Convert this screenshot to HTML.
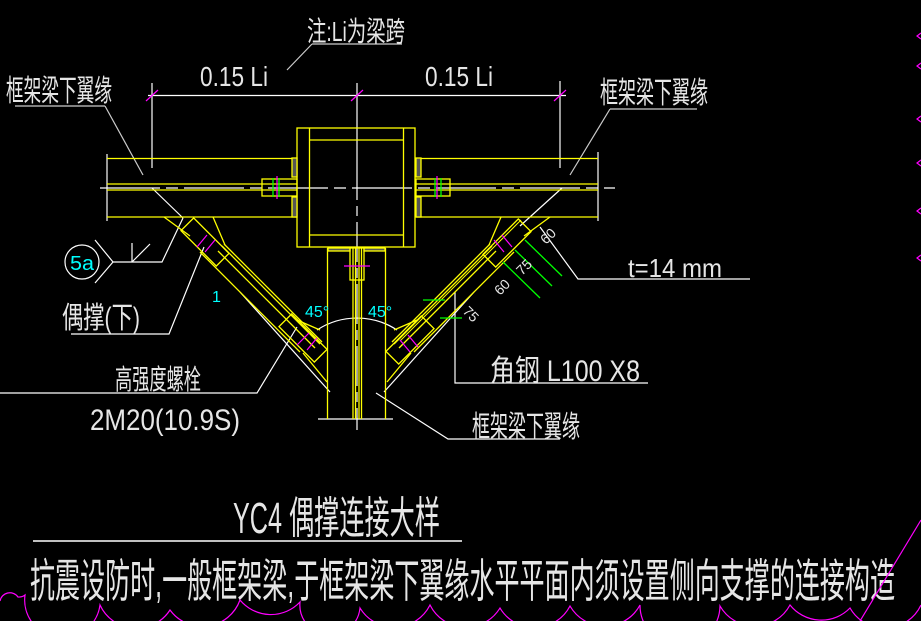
<!DOCTYPE html>
<html><head><meta charset="utf-8"><style>
html,body{margin:0;padding:0;background:#000;}
svg{display:block;}
text{font-family:"Liberation Sans","Noto Sans CJK SC",sans-serif;fill:#e6e6e6;}
</style></head><body>
<svg width="921" height="621" viewBox="0 0 921 621" xmlns="http://www.w3.org/2000/svg">
<rect width="921" height="621" fill="#000"/>
<g fill="none" stroke="#fff" stroke-width="1.2">
 <line x1="148" y1="95.5" x2="566" y2="95.5"/>
 <line x1="152" y1="83" x2="152" y2="168"/>
 <line x1="357" y1="83" x2="357" y2="160"/>
 <line x1="560" y1="81" x2="560" y2="168"/>
 <line x1="312" y1="44" x2="402" y2="44" stroke="#ccc"/>
 <line x1="312" y1="44" x2="287" y2="70" stroke="#ccc"/>
 <line x1="15" y1="106" x2="105" y2="106" stroke="#ccc"/>
 <line x1="105" y1="106" x2="143" y2="175" stroke="#ccc"/>
 <line x1="610" y1="109" x2="697" y2="109" stroke="#ccc"/>
 <line x1="610" y1="109" x2="570" y2="175" stroke="#ccc"/>
 <line x1="107" y1="154" x2="107" y2="221"/>
 <line x1="598" y1="152" x2="598" y2="221"/>
 <line x1="100" y1="188" x2="615" y2="188" stroke-dasharray="60 6 12 6"/>
 <line x1="357" y1="160" x2="357" y2="430" stroke-dasharray="40 6 10 6"/>
 <line x1="152" y1="188" x2="183" y2="218"/>
 <line x1="562" y1="188" x2="520" y2="226"/>
 <circle cx="82" cy="262" r="17"/>
 <polyline points="95,240 113,262 95,283"/>
 <polyline points="113,262 162,262 183,218"/>
 <line x1="132" y1="243" x2="132" y2="262"/>
 <line x1="132" y1="262" x2="150" y2="244"/>
 <polyline points="71,334 169,334 204,247"/>
 <polyline points="0,393 257,393 297,327"/>
 <polyline points="376,393 448,439 560,439"/>
 <polyline points="455,292 455,383 648,383"/>
 <polyline points="540,227 578,279 750,279"/>
 <line x1="318" y1="419" x2="393" y2="419"/>
 <path d="M317,330 A73,73 0 0 1 397,330"/>
 <line x1="240" y1="292" x2="330" y2="392"/>
 <line x1="474" y1="292" x2="384" y2="392"/>
 <line x1="33" y1="541" x2="462" y2="541" stroke-width="1.5"/>
</g>
<g stroke="#f0f" stroke-width="1.2">
 <line x1="146" y1="101" x2="158" y2="90"/>
 <line x1="351" y1="101" x2="363" y2="90"/>
 <line x1="554" y1="101" x2="566" y2="90"/>
</g>
<g fill="none" stroke="#ff0" stroke-width="1.3">
 <line x1="107" y1="158.5" x2="297" y2="158.5"/>
 <line x1="107" y1="184" x2="297" y2="184"/>
 <line x1="107" y1="190" x2="297" y2="190"/>
 <line x1="107" y1="217" x2="297" y2="217"/>
 <line x1="416" y1="158.5" x2="598" y2="158.5"/>
 <line x1="416" y1="184" x2="598" y2="184"/>
 <line x1="416" y1="190" x2="598" y2="190"/>
 <line x1="416" y1="217" x2="598" y2="217"/>
 <rect x="297" y="128" width="118" height="119"/>
 <line x1="309.5" y1="128" x2="309.5" y2="247"/>
 <line x1="403.5" y1="128" x2="403.5" y2="247"/>
 <line x1="309.5" y1="140" x2="403.5" y2="140"/>
 <line x1="309.5" y1="235" x2="403.5" y2="235"/>
 <rect x="262" y="179" width="35" height="17"/>
 <rect x="416" y="179" width="34" height="17"/>
 <rect x="292" y="158" width="5" height="19" fill="#555"/>
 <rect x="292" y="197" width="5" height="20" fill="#555"/>
 <rect x="416" y="158" width="5" height="19" fill="#555"/>
 <rect x="416" y="197" width="5" height="20" fill="#555"/>
 <line x1="327.5" y1="248" x2="327.5" y2="419"/>
 <line x1="385.5" y1="248" x2="385.5" y2="419"/>
 <line x1="353" y1="248" x2="353" y2="419"/>
 <line x1="355.5" y1="248" x2="355.5" y2="419"/>
 <line x1="359" y1="248" x2="359" y2="419"/>
 <line x1="361.5" y1="248" x2="361.5" y2="419"/>
 <rect x="350" y="248" width="14" height="32"/>
 <rect x="328" y="248" width="22" height="3" fill="#555"/>
 <rect x="364" y="248" width="21" height="3" fill="#555"/>
 <polyline points="164,217 190,236"/>
 <polyline points="213,217 225,245"/>
 <polyline points="297,320 320,330"/>
 <polyline points="303,353 327,382"/>
 <polyline points="550,217 524,236"/>
 <polyline points="501,217 489,245"/>
 <polyline points="417,320 394,330"/>
 <polyline points="411,353 387,382"/>
 <line x1="218" y1="251" x2="315" y2="348"/>
 <line x1="222" y1="246" x2="320" y2="344"/>
 <line x1="224" y1="244" x2="322" y2="342"/>
 <line x1="200" y1="252" x2="300" y2="352"/>
 <g transform="translate(205,242) rotate(45)"><rect x="-25" y="-9" width="50" height="18"/></g>
 <g transform="translate(303,338) rotate(45)"><rect x="-25" y="-9" width="50" height="18"/></g>
 <line x1="496" y1="251" x2="399" y2="348"/>
 <line x1="492" y1="246" x2="394" y2="344"/>
 <line x1="490" y1="244" x2="392" y2="342"/>
 <line x1="514" y1="252" x2="414" y2="352"/>
 <line x1="521" y1="220" x2="400" y2="341" stroke-width="1"/>
 <g transform="translate(507,243) rotate(-45)"><rect x="-25" y="-9" width="50" height="18"/></g>
 <g transform="translate(410,340) rotate(-45)"><rect x="-25" y="-9" width="50" height="18"/></g>
</g>
<g stroke="#0f0" stroke-width="1.3">
 <line x1="273" y1="178" x2="273" y2="197"/><line x1="279" y1="178" x2="279" y2="197"/>
 <line x1="435" y1="178" x2="435" y2="197"/><line x1="441" y1="178" x2="441" y2="197"/>
 <line x1="503" y1="262" x2="540" y2="298"/>
 <line x1="515" y1="250" x2="552" y2="286"/>
 <line x1="525" y1="240" x2="562" y2="276"/>
 <line x1="423" y1="300" x2="445" y2="300"/>
 <line x1="440" y1="318" x2="462" y2="318"/>
</g>
<g stroke="#f0f" stroke-width="1.2">
 <line x1="277" y1="176" x2="277" y2="199"/>
 <line x1="437" y1="176" x2="437" y2="199"/>
 <line x1="344" y1="266" x2="370" y2="266"/>
 <line x1="197" y1="247" x2="207" y2="235"/><line x1="205" y1="252" x2="215" y2="240"/>
 <line x1="297" y1="345" x2="309" y2="333"/><line x1="307" y1="350" x2="317" y2="338"/>
 <line x1="512" y1="247" x2="502" y2="235"/><line x1="504" y1="252" x2="494" y2="240"/>
 <line x1="400" y1="340" x2="410" y2="352"/><line x1="408" y1="335" x2="418" y2="347"/>
</g>
<text x="307" y="41" font-size="28" textLength="98" lengthAdjust="spacingAndGlyphs">注:Li为梁跨</text>
<text x="200" y="86" font-size="28" textLength="68" lengthAdjust="spacingAndGlyphs">0.15 Li</text>
<text x="425" y="86" font-size="28" textLength="68" lengthAdjust="spacingAndGlyphs">0.15 Li</text>
<text x="6" y="101" font-size="30" textLength="106" lengthAdjust="spacingAndGlyphs">框架梁下翼缘</text>
<text x="600" y="103" font-size="30" textLength="108" lengthAdjust="spacingAndGlyphs">框架梁下翼缘</text>
<text x="70" y="270" font-size="20" textLength="24" lengthAdjust="spacingAndGlyphs" style="fill:#0ff">5a</text>
<text x="62" y="328" font-size="30" textLength="78" lengthAdjust="spacingAndGlyphs">偶撑(下)</text>
<text x="212" y="302" font-size="16" style="fill:#0ff">1</text>
<text x="305" y="317" font-size="16" style="fill:#0ff">45°</text>
<text x="368" y="317" font-size="16" style="fill:#0ff">45°</text>
<text x="115" y="389" font-size="28" textLength="86" lengthAdjust="spacingAndGlyphs">高强度螺栓</text>
<text x="90" y="430" font-size="30" textLength="150" lengthAdjust="spacingAndGlyphs">2M20(10.9S)</text>
<text x="472" y="437" font-size="30" textLength="108" lengthAdjust="spacingAndGlyphs">框架梁下翼缘</text>
<text x="490" y="381" font-size="30" textLength="150" lengthAdjust="spacingAndGlyphs">角钢 L100 X8</text>
<text x="628" y="277" font-size="26" textLength="94" lengthAdjust="spacingAndGlyphs">t=14 mm</text>
<text font-size="14" transform="translate(500,296) rotate(-45)">60</text>
<text font-size="14" transform="translate(522,276) rotate(-45)">75</text>
<text font-size="14" transform="translate(546,245) rotate(-45)">60</text>
<text font-size="14" transform="translate(462,312) rotate(45)">75</text>
<text x="233" y="533" font-size="44" textLength="207" lengthAdjust="spacingAndGlyphs">YC4 偶撑连接大样</text>
<text x="30" y="597" font-size="46" textLength="865" lengthAdjust="spacingAndGlyphs">抗震设防时,一般框架梁,于框架梁下翼缘水平平面内须设置侧向支撑的连接构造</text>
<g fill="none" stroke="#f0f" stroke-width="1.2">
 <path d="M0,601 A10,10 0 0 1 18,597 A10,10 0 0 0 25,595 A30,30 0 0 0 100,605 A40,40 0 0 0 170,610 A40,40 0 0 0 240,600 A40,40 0 0 0 300,602 A30,30 0 0 0 360,608 A40,40 0 0 0 430,605 A40,40 0 0 0 500,608 A40,40 0 0 0 570,606 A40,40 0 0 0 640,605 A40,40 0 0 0 720,606 A40,40 0 0 0 790,605 A40,40 0 0 0 850,608 A40,40 0 0 0 921,605"/>
 <line x1="921" y1="520" x2="860" y2="621"/>
 <path d="M921,33 l-4,3 l4,3"/><path d="M921,63 l-4,3 l4,3"/><path d="M921,116 l-4,3 l4,3"/>
 <path d="M921,160 l-4,3 l4,3"/><path d="M921,208 l-4,3 l4,3"/><path d="M921,255 l-4,3 l4,3"/>
</g>
</svg>
</body></html>
